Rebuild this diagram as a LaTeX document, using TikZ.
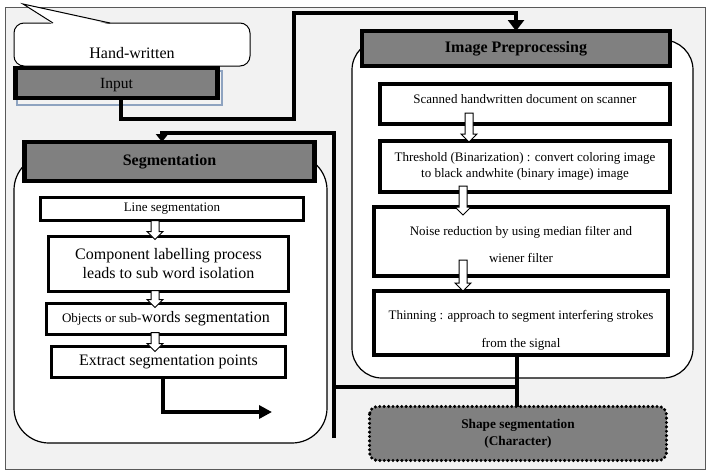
\documentclass[tikz,border=0pt]{standalone}
\usepackage{fontspec}
\setmainfont{Liberation Serif}
\usetikzlibrary{arrows.meta,calc}
\definecolor{bggray}{HTML}{F2F2F2}
\definecolor{hdrgray}{HTML}{808080}
\definecolor{shadowblue}{HTML}{8EA3C0}
\newcommand\fsz[2]{\fontsize{#1}{#2}\selectfont}
\newcommand\hollowarr[5]{%
  \coordinate (hx) at (#1,0);
  \draw[hollow] ($(hx |- #2.south)+(-4,-#4)$) -- ($(hx |- #3.north)+(-4,#5-8)$) -- ++(-4,0)
    -- ($(hx |- #3.north)+(0,#5)$) -- ++(8,-8) -- ++(-4,0) -- ($(hx |- #2.south)+(4,-#4)$) -- cycle;}
\begin{document}
\begin{tikzpicture}[x=1pt,y=-1pt,
  every node/.style={inner sep=0pt,outer sep=0pt,align=center},
  stepbox/.style={draw,line width=3.5pt,fill=white},
  hdrbox/.style={draw,line width=4.5pt,fill=hdrgray},
  bigbox/.style={draw,line width=1.2pt,fill=white},
  conn/.style={line width=4pt},
  hollow/.style={draw,fill=white,line width=1pt,line join=miter}
]
\useasboundingbox (0,0) rectangle (709,472);
\fill[white] (0,0) rectangle (709,472);
\draw[fill=bggray,draw=black!65,line width=1pt] (5,7) rectangle (705,469);

% big rounded containers
\node[bigbox,rounded corners=30pt,minimum width=341pt,minimum height=338pt] (prebig) at (522.5,209) {};
\node[bigbox,rounded corners=35pt,minimum width=313pt,minimum height=288pt] (segbig) at (170.5,299) {};

% callout
\node[draw,fill=white,line width=1pt,rounded corners=10pt,minimum width=236pt,minimum height=43pt,
  text height=28pt,font=\fsz{16}{19}] (hw) at (132,44.5) {Hand-written};
\coordinate (tipA) at ($(hw.north west)+(39,0)$);
\coordinate (tipB) at ($(hw.north west)+(96,0)$);
\coordinate (tipT) at (23,4);
\fill[white] ($(tipA)+(0,1.5)$) -- (tipT) -- ($(tipB)+(0,1.5)$) -- cycle;
\draw[line width=1pt] (tipA) -- (tipT) -- (tipB);

% input
\draw[shadowblue,line width=1.2pt] (17,71) rectangle (222,105);
\node[hdrbox,minimum width=202pt,minimum height=30pt,text height=14pt,font=\fsz{15.5}{18}] (inp) at (116.5,83) {Input};

% headers
\node[hdrbox,minimum width=308pt,minimum height=35pt,font=\bfseries\fsz{16}{19}] (pre) at (516,48.5) {Image Preprocessing};
\node[hdrbox,minimum width=290pt,minimum height=39pt,font=\bfseries\fsz{16}{19}] (seg) at (169.5,161.5) {Segmentation};

% right column steps
\node[stepbox,minimum width=290pt,minimum height=40pt,text depth=11pt,font=\fsz{13}{16}] (r1) at (525,104)
  {Scanned handwritten document on scanner};
\node[stepbox,minimum width=290pt,minimum height=51pt,font=\fsz{13}{16.5}] (r2) at (525,166.5)
  {Threshold (Binarization) : convert coloring image\\to black andwhite (binary image) image};
\node[stepbox,minimum width=294pt,minimum height=69pt,font=\fsz{13}{16}] (r3) at (521,241.5)
  {\rule{0pt}{15pt}Noise reduction by using median filter and\\[11pt]wiener filter};
\node[stepbox,minimum width=294pt,minimum height=64pt,font=\fsz{13}{16}] (r4) at (521,323)
  {\rule{0pt}{23pt}Thinning : approach to segment interfering strokes\\[12pt]from the signal};

% left column steps
\node[stepbox,minimum width=263pt,minimum height=23pt,font=\fsz{13}{16}] (l1) at (172,209) {Line segmentation};
\node[stepbox,minimum width=240pt,minimum height=55pt,font=\fsz{16}{19}] (l2) at (168.5,264)
  {Component labelling process\\leads to sub word isolation};
\node[stepbox,minimum width=239pt,minimum height=31pt] (l3) at (166,319)
  {{\fsz{13}{16}Objects or sub-}{\fsz{16}{19}words segmentation}};
\node[stepbox,minimum width=234pt,minimum height=31pt,font=\fsz{16}{19}] (l4) at (168.5,362) {Extract segmentation points};

% hollow arrows
\hollowarr{469}{r1}{r2}{11}{1}
\hollowarr{463}{r2}{r3}{6}{8}
\hollowarr{463}{r3}{r4}{16}{0}
\hollowarr{155}{l1}{l2}{0}{3}
\hollowarr{155}{l2}{l3}{1}{4}
\hollowarr{155}{l3}{l4}{2}{5}

% shape segmentation
\node[fill=hdrgray,rounded corners=8pt,minimum width=297pt,minimum height=54pt,
  font=\bfseries\fsz{13.3}{17}] (sh) at (518,433.5) {Shape segmentation\\(Character)};
\draw[black,rounded corners=8pt,dash pattern=on 0pt off 4.4pt,line cap=round,line width=3.4pt]
  (sh.north west) rectangle (sh.south east);

% connectors
\draw[conn,-{Triangle[length=11pt,width=16pt]}] ($(inp.south)+(4.5,0)$) -- ++(0,21) -| (294,13) -| (pre.north);
\coordinate (jb) at (334,438);
\coordinate (jt) at (334,133);
\coordinate (jm) at (334,387);
\draw[conn,-{Triangle[length=8pt,width=12pt]}] (jb) -- (jt) -| ($(seg.north)+(-7.5,0)$);
\coordinate (r4s) at ($(r4.south)+(-4,0)$);
\draw[conn] (r4s) -- (r4s |- sh.north);
\draw[conn] (jm) -- (jm -| r4s);
\coordinate (xend) at (272,412);
\draw[conn,-{Triangle[length=13pt,width=13pt]}] ($(l4.south)+(-5.5,0)$) |- (xend);
\end{tikzpicture}
\end{document}
